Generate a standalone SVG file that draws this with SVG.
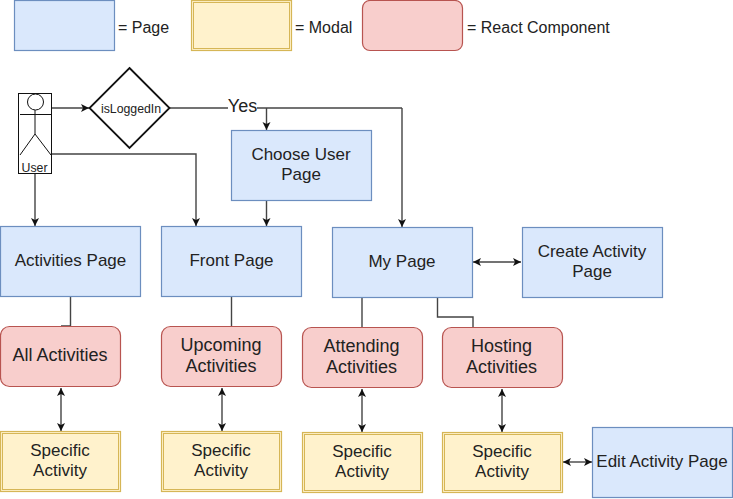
<svg xmlns="http://www.w3.org/2000/svg" width="733" height="499" viewBox="0 0 733 499">
<style>
text{font-family:"Liberation Sans",Arial,sans-serif;fill:#222;text-anchor:middle}
.t{font-size:17px}
.r{font-size:18px}
.l{font-size:16px;text-anchor:start}
.page{fill:#dae8fc;stroke:#6c8ebf;stroke-width:1.2}
.modal{fill:#fff2cc;stroke:#d6b656;stroke-width:1.2}
.modal2{fill:none;stroke:#d6b656;stroke-width:1}
.comp{fill:#f8cecc;stroke:#b85450;stroke-width:1.2}
.c{fill:none;stroke:#444;stroke-width:1.4}
.a{marker-end:url(#ah)}
.b{marker-start:url(#as);marker-end:url(#ah)}
.s{fill:none;stroke:#111;stroke-width:1}
</style>
<defs>
<marker id="ah" markerUnits="userSpaceOnUse" markerWidth="10" markerHeight="10" refX="8.500" refY="5" orient="auto"><path d="M0.500 1 L8.500 5 L0.500 9 L2.500 5 Z" fill="#111"/></marker>
<marker id="as" markerUnits="userSpaceOnUse" markerWidth="10" markerHeight="10" refX="1.500" refY="5" orient="auto"><path d="M9.500 1 L1.500 5 L9.500 9 L7.500 5 Z" fill="#111"/></marker>
</defs>
<rect width="733" height="499" fill="#fff"/>
<g id="connectors">
<path class="c a" d="M52 108H89"/>
<path class="c" d="M170 108H228"/>
<path class="c" d="M257 108H402"/>
<path class="c a" d="M266.500 108V130"/>
<path class="c a" d="M402 108V227"/>
<path class="c a" d="M51 154H196V226"/>
<path class="c a" d="M35 174V226"/>
<path class="c a" d="M266.500 201V226"/>
<path class="c" d="M70.500 297V326H61"/>
<path class="c" d="M231.500 297V326"/>
<path class="c" d="M362 297V327"/>
<path class="c" d="M437.500 297V317H473V327"/>
<path class="c b" d="M473 262H521"/>
<path class="c b" d="M61 388V431"/>
<path class="c b" d="M222 388V431"/>
<path class="c b" d="M362 389V432"/>
<path class="c b" d="M502 389V432"/>
<path class="c b" d="M563 462H592"/>
</g>
<g id="legend-page"><rect class="page" x="14.500" y="0.500" width="100" height="50"/><text class="l" x="118" y="33">= Page</text></g>
<g id="legend-modal"><rect class="modal" x="191.500" y="0.500" width="100" height="50"/><rect class="modal2" x="193.500" y="2.500" width="96" height="46"/><text class="l" x="295" y="33">= Modal</text></g>
<g id="legend-component"><rect class="comp" x="362.500" y="0.500" width="100" height="50" rx="7.500"/><text class="l" x="467" y="33">= React Component</text></g>
<g id="user">
<rect x="18.500" y="93.500" width="33" height="80" fill="#fff" stroke="#111" stroke-width="1"/>
<circle class="s" cx="35.500" cy="102" r="8"/>
<path class="s" d="M35 110V134M20 114.500H51M20 155L35 134L51 155"/>
<text x="34.500" y="172" font-size="12.300">User</text>
</g>
<g id="isLoggedIn"><path d="M129.500 68L169.500 108L129.500 148L89.500 108Z" fill="#fff" stroke="#111" stroke-width="1.800"/><text x="131" y="113" font-size="12.300">isLoggedIn</text></g>
<text x="242.500" y="112" font-size="18" id="yes">Yes</text>
<g id="choose-user-page"><rect class="page" x="231.500" y="130.500" width="140" height="70"/><text class="t" x="301" y="160">Choose User</text><text class="t" x="301" y="180">Page</text></g>
<g id="activities-page"><rect class="page" x="0.500" y="226.500" width="140" height="70"/><text class="t" x="70.500" y="266">Activities Page</text></g>
<g id="front-page"><rect class="page" x="161.500" y="226.500" width="140" height="70"/><text class="t" x="231.500" y="266">Front Page</text></g>
<g id="my-page"><rect class="page" x="332.500" y="227.500" width="140" height="70"/><text class="t" x="402" y="267">My Page</text></g>
<g id="create-activity-page"><rect class="page" x="522.500" y="227.500" width="140" height="70"/><text class="t" x="592" y="257">Create Activity</text><text class="t" x="592" y="277">Page</text></g>
<g id="all-activities"><rect class="comp" x="0.500" y="326.500" width="120" height="60" rx="9"/><text class="r" x="60" y="361">All Activities</text></g>
<g id="upcoming-activities"><rect class="comp" x="161.500" y="326.500" width="120" height="60" rx="9"/><text class="r" x="221" y="351">Upcoming</text><text class="r" x="221" y="371.500">Activities</text></g>
<g id="attending-activities"><rect class="comp" x="302.500" y="327.500" width="120" height="60" rx="9"/><text class="r" x="361.500" y="352">Attending</text><text class="r" x="361.500" y="372.500">Activities</text></g>
<g id="hosting-activities"><rect class="comp" x="442.500" y="327.500" width="120" height="60" rx="9"/><text class="r" x="501.500" y="352">Hosting</text><text class="r" x="501.500" y="372.500">Activities</text></g>
<g id="specific-1"><rect class="modal" x="0.500" y="431.500" width="120" height="60"/><rect class="modal2" x="2.500" y="433.500" width="116" height="56"/><text class="t" x="60" y="456">Specific</text><text class="t" x="60" y="476">Activity</text></g>
<g id="specific-2"><rect class="modal" x="161.500" y="431.500" width="120" height="60"/><rect class="modal2" x="163.500" y="433.500" width="116" height="56"/><text class="t" x="221" y="456">Specific</text><text class="t" x="221" y="476">Activity</text></g>
<g id="specific-3"><rect class="modal" x="302.500" y="432.500" width="120" height="60"/><rect class="modal2" x="304.500" y="434.500" width="116" height="56"/><text class="t" x="362" y="457">Specific</text><text class="t" x="362" y="477">Activity</text></g>
<g id="specific-4"><rect class="modal" x="442.500" y="432.500" width="120" height="60"/><rect class="modal2" x="444.500" y="434.500" width="116" height="56"/><text class="t" x="502" y="457">Specific</text><text class="t" x="502" y="477">Activity</text></g>
<g id="edit-activity-page"><rect class="page" x="592.500" y="427.500" width="140" height="70"/><text class="t" x="662" y="467">Edit Activity Page</text></g>
</svg>
